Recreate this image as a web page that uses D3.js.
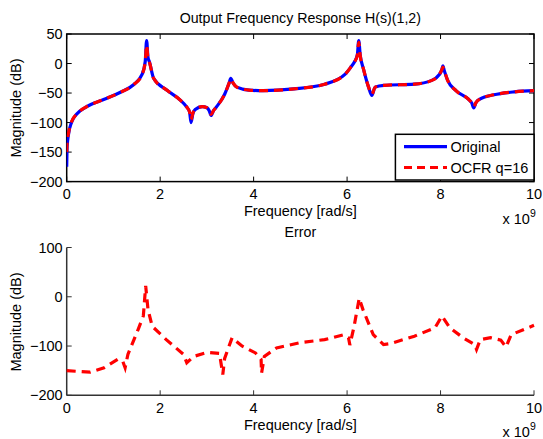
<!DOCTYPE html>
<html><head><meta charset="utf-8">
<script src="https://cdn.jsdelivr.net/npm/d3@7"></script>
<style>body{margin:0;background:#fff}svg{display:block}text{font-family:"Liberation Sans",Arial,Helvetica,sans-serif;fill:#000}</style>
</head><body>
<script>
// ---- data (frequency in units of 1e9 rad/s, magnitude in dB) ----
const freqTop = [0,0.01,0.036,0.107,0.21,0.43,0.79,1.14,1.43,1.61,1.68,1.71,1.74,1.77,1.86,2.14,2.43,2.57,2.63,2.66,2.7,2.75,2.9,3.0,3.05,3.09,3.14,3.2,3.38,3.48,3.51,3.56,3.64,3.9,4.2,4.86,5.52,5.96,6.09,6.16,6.22,6.25,6.28,6.35,6.46,6.53,6.6,6.79,7.44,7.8,7.97,8.03,8.05,8.08,8.15,8.33,8.59,8.67,8.71,8.76,8.85,9.14,9.58,10];
const original = [-175,-140,-121,-99,-86,-73,-61,-49,-36,-19,3,39,10,3,-25,-45,-62,-74,-82,-100,-85,-78,-73,-75,-80,-88,-80,-74,-52,-32,-25,-33,-40,-45,-46,-43,-35,-18,-5,3,15,39,15,-9,-40,-54,-40,-37,-35,-29,-19,-10,-4,-12,-28,-46,-60,-67,-75,-66,-60,-53,-48,-46];
const ocfr = [-150,-132,-119,-98,-86,-73,-61,-49,-36,-19,2,31,8,2,-25,-45,-62,-74,-82,-95,-84,-78,-73,-75,-80,-86,-80,-74,-52,-32,-26,-33,-40,-45,-46,-43,-35,-18,-5,3,14,36,14,-9,-40,-52,-40,-37,-35,-29,-19,-10,-6,-12,-28,-46,-60,-67,-73,-66,-60,-53,-48,-46];
const freqErr = [0,0.5,0.8,1.09,1.2,1.25,1.31,1.53,1.64,1.69,1.74,1.83,2.13,2.5,2.57,2.72,3.01,3.27,3.34,3.38,3.54,3.75,4.04,4.16,4.17,4.23,4.49,5.0,5.52,5.93,6.03,6.06,6.15,6.26,6.34,6.56,6.78,6.93,7.44,7.88,8.03,8.2,8.48,8.73,8.77,8.85,9.07,9.29,9.4,9.51,10];
const errorDb = [-150,-153,-144,-127,-131,-144,-117,-66,-39,22,-26,-60,-87,-117,-134,-121,-113,-115,-158,-125,-83,-100,-114,-127,-155,-121,-104,-93,-87,-77,-83,-98,-60,-3,-26,-77,-97,-95,-80,-63,-39,-63,-83,-97,-107,-87,-83,-88,-102,-77,-58];
const xTicks = [0,2,4,6,8,10];
const yTicksTop = [50,0,-50,-100,-150,-200];
const yTicksErr = [100,0,-100,-200];
const legendLabels = ["Original","OCFR q=16"];

const W = 543, H = 439;
const svg = d3.select("body").append("svg").attr("width", W).attr("height", H);
const left = 66.7, right = 534;
const cx = (left + right) / 2;
const fmt = d => d < 0 ? "\u2212" + Math.abs(d) : String(d);
const FS = 14.5;

function panel(top, bottom, yDomain, yTicks, boxed, labelY) {
  const x = d3.scaleLinear().domain([0, 10]).range([left, right]);
  const y = d3.scaleLinear().domain(yDomain).range([bottom, top]);
  const g = svg.append("g");
  const stroke = boxed ? "#000" : "#333";
  const tl = 5;
  xTicks.forEach(t => {
    g.append("line").attr("x1", x(t)).attr("x2", x(t)).attr("y1", bottom).attr("y2", bottom - tl).attr("stroke", stroke).attr("stroke-width", 1);
    if (boxed) g.append("line").attr("x1", x(t)).attr("x2", x(t)).attr("y1", top).attr("y2", top + tl).attr("stroke", stroke).attr("stroke-width", 1);
    g.append("text").attr("x", x(t)).attr("y", labelY).attr("text-anchor", "middle").attr("font-size", FS).text(t);
  });
  yTicks.forEach(t => {
    g.append("line").attr("x1", left).attr("x2", left + tl).attr("y1", y(t)).attr("y2", y(t)).attr("stroke", stroke).attr("stroke-width", 1);
    if (boxed) g.append("line").attr("x1", right).attr("x2", right - tl).attr("y1", y(t)).attr("y2", y(t)).attr("stroke", stroke).attr("stroke-width", 1);
    g.append("text").attr("x", left - 4).attr("y", y(t) + 5).attr("text-anchor", "end").attr("font-size", FS).text(fmt(t));
  });
  if (boxed) {
    g.append("rect").attr("x", left).attr("y", top).attr("width", right - left).attr("height", bottom - top).attr("fill", "none").attr("stroke", "#000").attr("stroke-width", 1.5);
  } else {
    g.append("line").attr("x1", left).attr("x2", right).attr("y1", bottom).attr("y2", bottom).attr("stroke", stroke).attr("stroke-width", 1.5);
    g.append("line").attr("x1", left).attr("x2", left).attr("y1", top).attr("y2", bottom).attr("stroke", stroke).attr("stroke-width", 1.5);
  }
  return {x, y, g};
}

function expLabel(xp, yb) {
  const t = svg.append("text").attr("x", xp).attr("y", yb).attr("font-size", FS);
  t.append("tspan").text("x 10");
  t.append("tspan").attr("dy", -7).attr("font-size", 10.5).text("9");
}

// top panel
const topY = 34, botY = 181.6;
const p1 = panel(topY, botY, [-200, 50], yTicksTop, true, 198.5);
svg.append("clipPath").attr("id", "c1").append("rect").attr("x", left).attr("y", topY).attr("width", right - left).attr("height", botY - topY);
const line1 = d3.line().curve(d3.curveMonotoneX).x((d, i) => p1.x(freqTop[i])).y(d => p1.y(d));
svg.append("path").datum(original).attr("d", line1).attr("fill", "none").attr("stroke", "#0000ff").attr("stroke-width", 3.2).attr("stroke-linejoin", "round").attr("clip-path", "url(#c1)");
svg.append("path").datum(ocfr).attr("d", line1).attr("fill", "none").attr("stroke", "#ff0000").attr("stroke-width", 3.2).attr("stroke-dasharray", "9,6").attr("clip-path", "url(#c1)");

svg.append("text").attr("x", cx).attr("y", 22.7).attr("text-anchor", "middle").attr("font-size", 14.2).text("Output Frequency Response H(s)(1,2)");
svg.append("text").attr("x", cx).attr("y", 215.5).attr("text-anchor", "middle").attr("font-size", FS).text("Frequency [rad/s]");
svg.append("text").attr("transform", "translate(20.5,108) rotate(-90)").attr("text-anchor", "middle").attr("font-size", FS).text("Magnitude (dB)");
expLabel(502.5, 223.5);

// legend
const lg = svg.append("g");
lg.append("rect").attr("x", 395.4).attr("y", 134.3).attr("width", right - 395.4).attr("height", 180 - 134.3).attr("fill", "#fff").attr("stroke", "#000").attr("stroke-width", 1.5);
const legendColors = ["#0000ff", "#ff0000"];
const legendDash = [null, "8,5"];
[146.7, 167.5].forEach((ly, i) => {
  lg.append("line").attr("x1", 404).attr("x2", 447).attr("y1", ly).attr("y2", ly).attr("stroke", legendColors[i]).attr("stroke-width", 3.2).attr("stroke-dasharray", legendDash[i]);
  lg.append("text").attr("x", 450.5).attr("y", ly + 5).attr("font-size", FS).text(legendLabels[i]);
});

// bottom panel
const p2 = panel(247.5, 395.3, [-200, 100], yTicksErr, false, 413);
const line2 = d3.line().x((d, i) => p2.x(freqErr[i])).y(d => p2.y(d));
svg.append("path").datum(errorDb).attr("d", line2).attr("fill", "none").attr("stroke", "#ff0000").attr("stroke-width", 3.2).attr("stroke-dasharray", "9,6");
svg.append("text").attr("x", cx).attr("y", 237.3).attr("text-anchor", "middle").attr("font-size", 14.2).text("Error");
svg.append("text").attr("x", cx).attr("y", 430).attr("text-anchor", "middle").attr("font-size", FS).text("Frequency [rad/s]");
svg.append("text").attr("transform", "translate(20.5,322) rotate(-90)").attr("text-anchor", "middle").attr("font-size", FS).text("Magnitude (dB)");
expLabel(502.5, 437);
</script>
</body></html>
